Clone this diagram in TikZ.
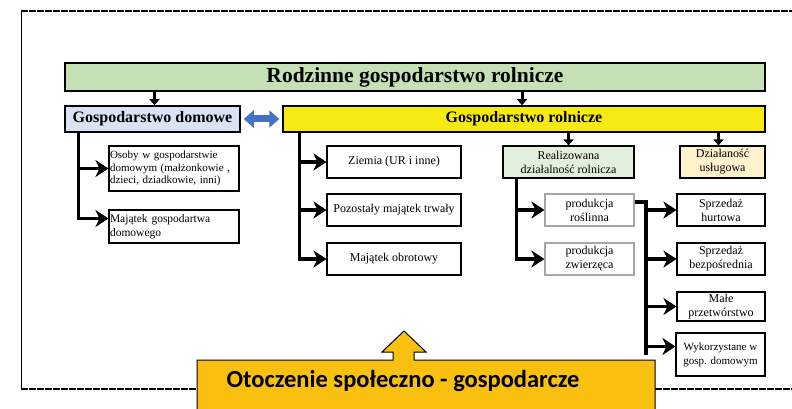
\documentclass[tikz,border=0pt]{standalone}
\usepackage{fontspec}
\setmainfont{Liberation Serif}
\newfontfamily\envfont{Carlito}
\usetikzlibrary{positioning,arrows.meta,calc}

\definecolor{titlegreen}{RGB}{197,224,180}
\definecolor{domblue}{RGB}{218,227,243}
\definecolor{rolyellow}{RGB}{246,234,18}
\definecolor{realgreen}{RGB}{226,239,218}
\definecolor{uslorange}{RGB}{255,242,204}
\definecolor{envorange}{RGB}{250,192,16}
\definecolor{linkblue}{RGB}{68,114,196}

\tikzset{
  box/.style={draw, line width=1.1pt, align=center, inner sep=1pt, font=\fontsize{12}{14}\selectfont},
  headbox/.style={box, line width=1.5pt, font=\bfseries\fontsize{16}{16}\selectfont},
  branch/.style={line width=3.5pt, -{Stealth[length=13pt,width=17pt,inset=4pt]}},
  branchline/.style={line width=3.5pt},
  downarr/.style={line width=3pt, -{Triangle[length=6pt,width=10pt]}},
}

\begin{document}
\begin{tikzpicture}[x=1pt, y=-1pt]
\useasboundingbox (0,0) rectangle (792,409);
\clip (0,0) rectangle (792,409);

\draw[line width=1.8pt, dash pattern=on 7pt off 1pt] (21,11) -- (792,11);
\draw[line width=0.8pt] (21,11) -- (21,389);
\draw[line width=1.8pt, dash pattern=on 7pt off 1pt] (21,389) -- (197,389) (655,389) -- (792,389);

\node[headbox, fill=titlegreen, minimum width=700pt, minimum height=28pt, font=\bfseries\fontsize{21.5}{21.5}\selectfont] (rodz) at (415,77) {Rodzinne gospodarstwo rolnicze};
\node[headbox, fill=domblue, minimum width=175pt, minimum height=26pt] (dom) at (152.5,119) {Gospodarstwo domowe};
\node[headbox, fill=rolyellow, minimum width=482pt, minimum height=26pt] (rol) at (524,119) {Gospodarstwo rolnicze};

\node[box, text width=128pt, align=left, minimum height=45pt, font=\fontsize{11}{12.5}\selectfont] (osoby) at (174,168.5) {Osoby w gospodarstwie\\domowym (małżonkowie ,\\dzieci, dziadkowie, inni)};
\node[box, text width=128pt, align=left, minimum height=33pt, font=\fontsize{11.5}{14}\selectfont] (majdom) at (174,226.5) {Majątek gospodartwa\\domowego};

\node[box, minimum width=134pt, minimum height=32pt] (ziemia) at (394,162) {Ziemia (UR i inne)};
\node[box, minimum width=134pt, minimum height=32pt] (trwaly) at (394,210) {Pozostały majątek trwały};
\node[box, minimum width=134pt, minimum height=32pt] (obrot) at (394,259) {Majątek obrotowy};

\node[box, fill=realgreen, minimum width=131pt, minimum height=32pt] (real) at (568.5,162) {Realizowana\\działalność rolnicza};
\node[box, fill=uslorange, minimum width=85pt, minimum height=32pt] (usl) at (722.5,162) {Działaność\\usługowa};

\node[box, draw=gray!70, minimum width=89pt, minimum height=32pt] (rosl) at (589.5,210) {produkcja\\roślinna};
\node[box, draw=gray!70, minimum width=89pt, minimum height=32pt] (zwierz) at (589.5,259) {produkcja\\zwierzęca};

\node[box, minimum width=88pt, minimum height=32pt] (hurt) at (721,210) {Sprzedaż\\hurtowa};
\node[box, minimum width=88pt, minimum height=32pt] (bezp) at (721,259) {Sprzedaż\\bezpośrednia};
\node[box, minimum width=88pt, minimum height=29pt] (male) at (721,306.5) {Małe\\przetwórstwo};
\node[box, minimum width=89pt, minimum height=43pt, font=\fontsize{11}{14}\selectfont] (wyk) at (720.5,354.5) {Wykorzystane w\\gosp. domowym};

\draw[downarr] ([xshift=2pt]dom.north |- rodz.south) -- ([xshift=2pt]dom.north);
\draw[downarr] ([xshift=-2pt]rol.north |- rodz.south) -- ([xshift=-2pt]rol.north);
\draw[downarr] (real.north |- rol.south) -- (real.north);
\draw[downarr] ([xshift=-4pt]usl.north |- rol.south) -- ([xshift=-4pt]usl.north);

\draw[line width=7pt, linkblue, {Triangle[length=10pt,width=17pt]}-{Triangle[length=10pt,width=17pt]}] ([xshift=3pt]dom.east) -- ([xshift=-3pt]rol.west);

\draw[branch] ([xshift=14pt]dom.south west) |- (osoby);
\draw[branch] ([xshift=14pt]dom.south west) |- ([yshift=8pt]majdom.west);

\foreach \n in {ziemia, trwaly, obrot}
  \draw[branch] ([xshift=17pt]rol.south west) |- (\n);

\foreach \n in {rosl, zwierz}
  \draw[branch] ([xshift=14pt]real.south west) |- (\n);

\coordinate (trunk) at (646,202);
\draw[branchline] ([yshift=8pt]rosl.east) -- (trunk) -- (trunk |- wyk.west);
\draw[branchline] ($(rosl.south east)!0.5!(zwierz.north east)$) -- ($(rosl.south east)!0.5!(zwierz.north east)$ -| trunk);
\foreach \n in {hurt, bezp, male}
  \draw[branch] (trunk |- \n.west) -- (\n);
\draw[branch] ([yshift=8pt]trunk |- wyk.west) -- ([yshift=8pt]wyk.west);

\draw[line width=1pt, fill=envorange] (197,420) -- (197,360) -- (393,360) -- (393,352) -- (382,352) -- (404,331) -- (426,352) -- (414,352) -- (414,360) -- (655,360) -- (655,420) -- cycle;
\node[font=\envfont\bfseries\fontsize{24.5}{24.5}\selectfont] (env) at (403,381) {Otoczenie społeczno - gospodarcze};

\end{tikzpicture}
\end{document}
